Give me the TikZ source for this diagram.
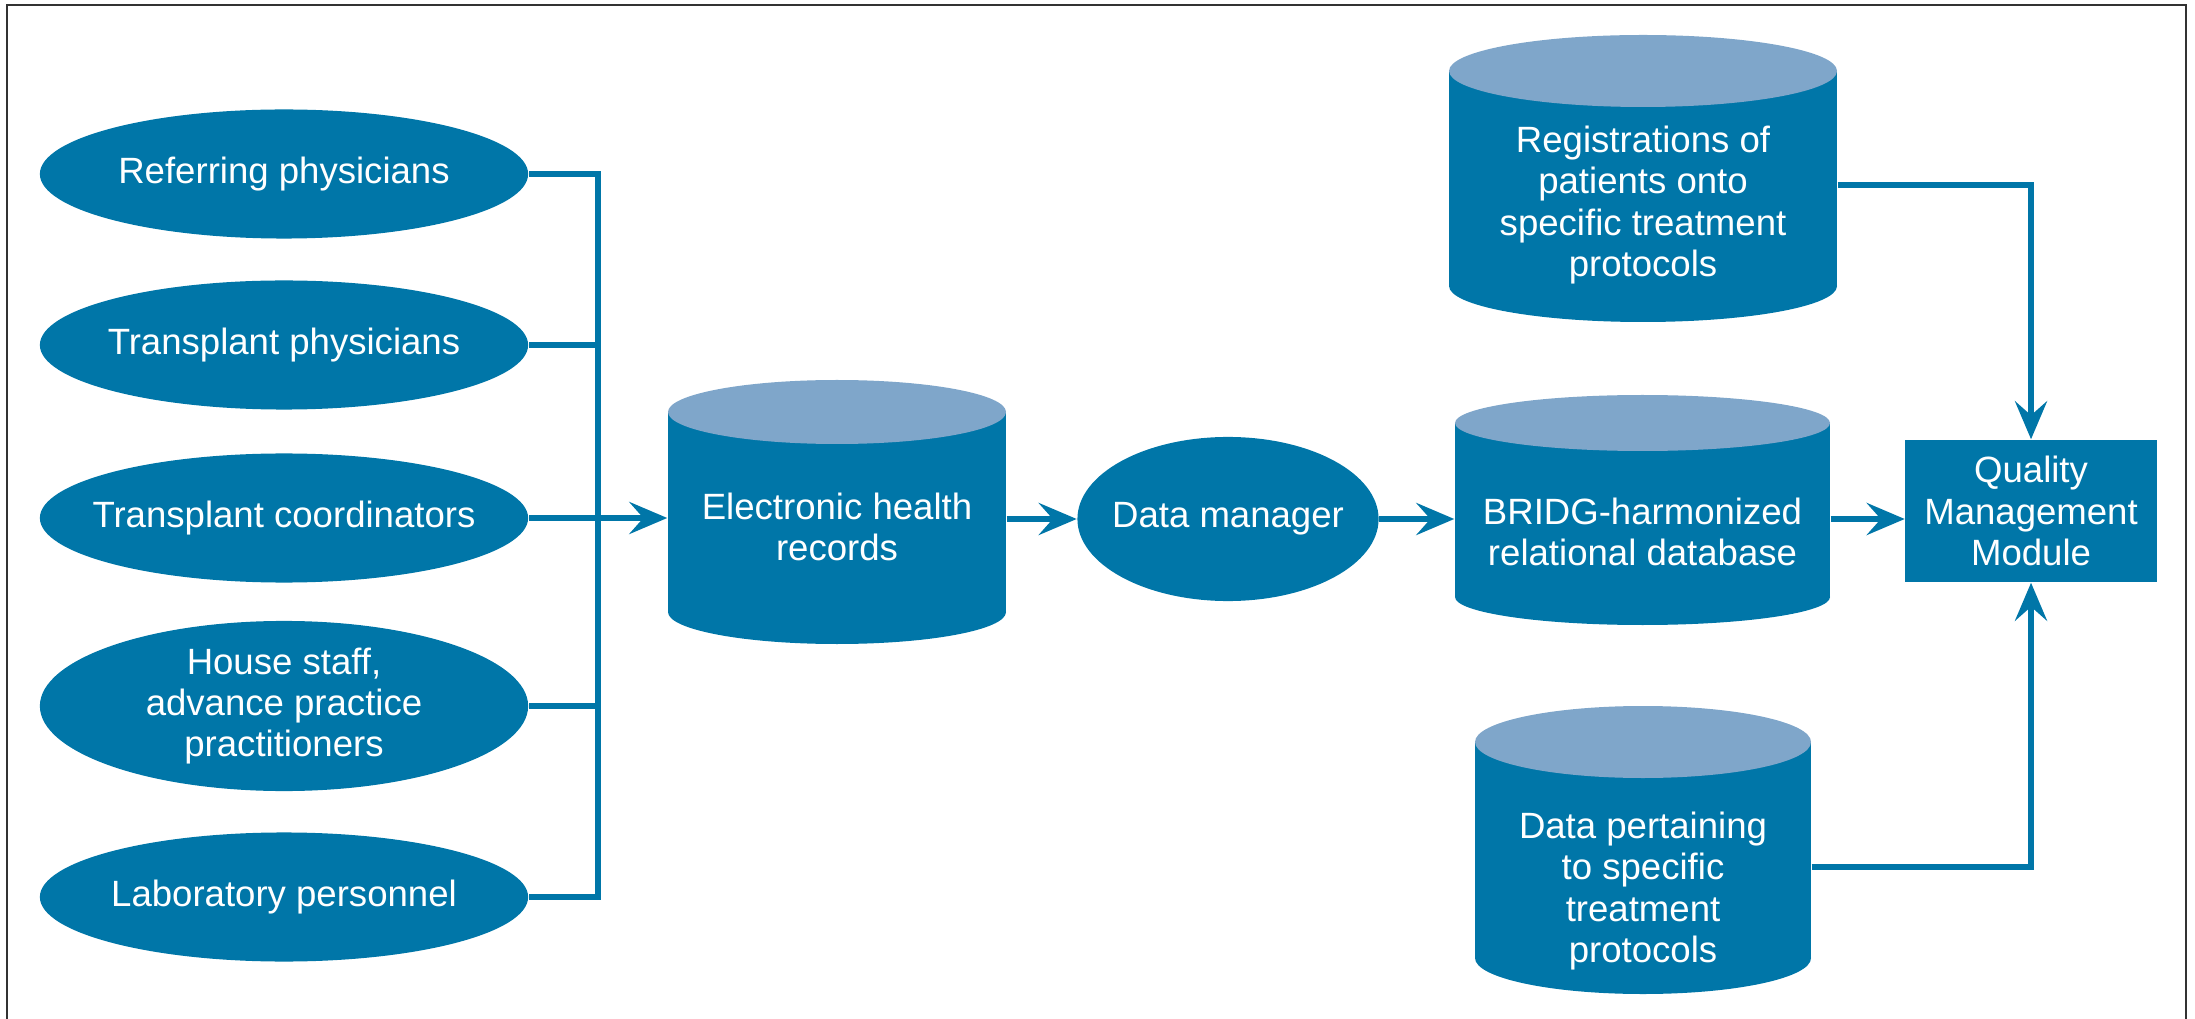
\documentclass[tikz,border=0pt]{standalone}
\usepackage{fontspec}
\setmainfont{Liberation Sans}
\usetikzlibrary{shapes.geometric,arrows.meta}
\definecolor{boxblue}{RGB}{0,118,168}
\definecolor{capblue}{RGB}{127,166,202}
\definecolor{framegray}{RGB}{50,50,50}
% database drum: name, left x, right x, cap y, bottom y, y radius, text y, text
\newcommand{\dbdrum}[8]{%
  \fill[boxblue] (#2,#4) rectangle (#3,#5);
  \fill[boxblue] ({(#2+#3)/2},#5) ellipse [x radius={(#3-#2)/2}, y radius=#6];
  \fill[capblue] ({(#2+#3)/2},#4) ellipse [x radius={(#3-#2)/2}, y radius=#6];
  \node[txt, minimum width={(#3-#2)*0.01cm}] (#1) at ({(#2+#3)/2},#7) {#8};}
\begin{document}
\begin{tikzpicture}[x=0.01cm, y=-0.01cm, line join=miter,
    txt/.style={inner sep=0pt, text=white, align=center, font=\fontsize{10.4}{11.7}\selectfont},
    oval/.style={txt, ellipse, fill=boxblue, inner xsep=-14pt, inner ysep=-4pt},
    who/.style={oval, minimum width=4.88cm, minimum height=1.29cm},
    link/.style={boxblue, line width=1.7pt},
    arr/.style={link, -{Stealth[length=10.8pt, width=9.1pt, inset=4pt]}}]
	\useasboundingbox (0,0) rectangle (2195,1019);
	\draw[framegray, line width=0.7pt] (7,1019) -- (7,5) -- (2186,5) -- (2186,1019);
	% people who enter data
	\node[who] (ref) at (284,174) {Referring physicians};
	\node[who] (tra) at (284,345) {Transplant physicians};
	\node[who] (crd) at (284,518) {Transplant coordinators};
	\node[who, minimum height=1.70cm] (hou) at (284,706) {House staff,\\advance practice\\practitioners};
	\node[who] (lab) at (284,897) {Laboratory personnel};
	\coordinate (bus) at (598,174);
	% main line
	\dbdrum{ehr}{668}{1006}{412}{612}{32}{527}{Electronic health\\records}
	\node[oval, minimum width=3.01cm, minimum height=1.64cm] (dm) at (1228,519) {Data manager};
	\dbdrum{brg}{1455}{1830}{423}{597}{28}{532}{BRIDG-harmonized\\relational database}
	\node[txt, fill=boxblue, minimum width=2.51cm, minimum height=1.42cm] (qmm) at (2031,511) {Quality\\Management\\Module};
	\dbdrum{reg}{1449}{1837}{71}{286}{36}{205}{Registrations of\\patients onto\\specific treatment\\protocols}
	\dbdrum{dat}{1475}{1811}{742}{958}{36}{891}{Data pertaining\\to specific\\treatment\\protocols}
	% connectors
	\draw[link] (ref.east) -| (lab.east -| bus) -- (lab.east);
	\draw[link] (tra.east) -- (tra.east -| bus);
	\draw[link] (hou.east) -- (hou.east -| bus);
	\draw[arr] (crd.east) -- (ehr.west |- crd.east);
	\draw[arr] (ehr.east |- dm.west) -- (dm.west);
	\draw[arr] (dm.east) -- (brg.west |- dm.east);
	\draw[arr] (brg.east |- dm.east) -- (qmm.west |- dm.east);
	\draw[arr] ([yshift=0.2cm]reg.east) -| (qmm.north);
	\draw[arr] ([yshift=0.24cm]dat.east) -| (qmm.south);
\end{tikzpicture}
\end{document}
